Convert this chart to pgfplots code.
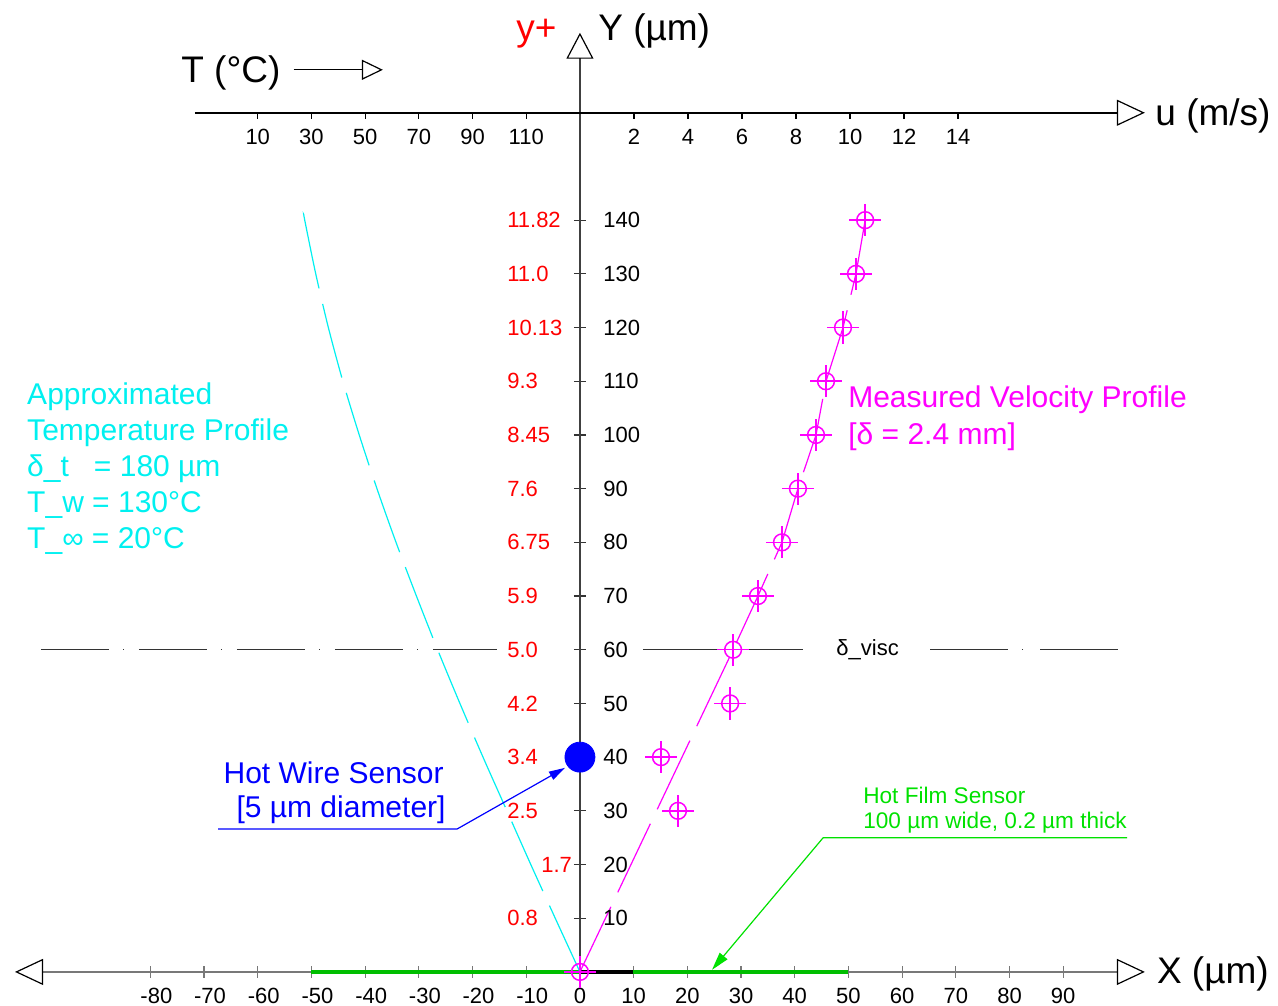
\documentclass[border=0pt]{standalone}
\usepackage{pgfplots}
\pgfplotsset{compat=1.18}
\usepackage{pgfplotstable}
\usepackage{fontspec}
\setmainfont{Liberation Sans}
\usetikzlibrary{arrows.meta}
\definecolor{cy}{RGB}{0,240,240}
\definecolor{mg}{RGB}{255,0,255}
\definecolor{gr}{RGB}{0,225,0}
\definecolor{grd}{RGB}{0,190,0}
\definecolor{axg}{RGB}{120,120,120}
\newcommand\tickfont{\fontsize{11}{13}\selectfont}
\newcommand\annfont{\fontsize{15}{18}\selectfont}
\newcommand\bigfont{\fontsize{18.5}{22}\selectfont}

\pgfplotstableread{
Y u
0 0
30 3.63
40 3.0
50 5.56
60 5.67
70 6.59
80 7.48
90 8.07
100 8.74
110 9.11
120 9.74
130 10.22
140 10.56
}\velocity

\pgfplotstableread{
Y u
140 10.56
130 10.22
120 9.74
110 9.11
100 8.74
90 8.07
80 7.48
70 6.59
60 5.67
0 0
}\velfit

\pgfplotstableread{
Y T
141 27.2
140 27.5
130 31.6
120 36.3
110 41.7
100 47.8
90 54.4
80 61.5
70 69.1
60 77.0
50 85.3
40 93.9
30 102.8
20 111.7
10 120.8
0 130
}\temp

\begin{document}
\begin{tikzpicture}
\begin{axis}[
  x=2.685pt, y=2.685pt,
  xmin=-105.2, xmax=105.2, ymin=0, ymax=174.9,
  axis x line*=middle, axis y line*=middle,
  clip=false,
  x axis line style={axg, line width=1pt, {Triangle[open,length=14pt,width=13pt,line width=0.6pt,color=black]}-{Triangle[open,length=14pt,width=13pt,line width=0.6pt,color=black]}},
  y axis line style={black!75, line width=0.75pt, -{Triangle[open,length=13pt,width=13.5pt,line width=0.6pt,color=black]}},
  xtick={-80,-70,...,90}, ytick={10,20,...,140},
  xticklabels={\hspace*{6pt}-80,\hspace*{6pt}-70,\hspace*{6pt}-60,\hspace*{6pt}-50,\hspace*{6pt}-40,\hspace*{6pt}-30,\hspace*{6pt}-20,\hspace*{6pt}-10,0,10,20,30,40,50,60,70,80,90},
  hide obscured x ticks=false, hide obscured y ticks=false,
  yticklabels={},
  tick align=center, major tick length=6pt,
  x tick style={axg, line width=0.6pt},
  y tick style={black!80, line width=0.6pt},
  tick label style={font=\tickfont},
  xticklabel style={yshift=-1.5pt},
  /pgf/number format/assume math mode=true,
]
% bounding box corners
\coordinate (bbA) at (axis cs:-108,-6.33);
\coordinate (bbB) at (axis cs:130,181);

% hot film sensor on the wall
\draw[grd, line width=2pt] (axis cs:-50,0) -- (axis cs:50,0);
\draw[black, line width=2pt] (axis cs:0,0) -- (axis cs:9.9,0);

% delta_visc line
\draw[black!80, line width=0.6pt, dash pattern=on 34pt off 7.25pt on 0.5pt off 7.25pt] (axis cs:-100.4,60) -- (axis cs:-15.5,60);
\draw[black!80, line width=0.6pt] (axis cs:11.7,60) -- (axis cs:41.5,60);
\draw[black!80, line width=0.6pt] (axis cs:65.2,60) -- (axis cs:79.7,60);
\draw[black!80, line width=0.6pt] (axis cs:82.4,60) -- (axis cs:82.6,60);
\draw[black!80, line width=0.6pt] (axis cs:85.7,60) -- (axis cs:100.2,60);
\node[anchor=west, inner sep=0, font=\tickfont] at (axis cs:47.7,60) {δ\_visc};

% temperature profile
\addplot[cy, line width=0.6pt, dash pattern=on 38pt off 8pt, smooth, no marks] table[x expr=(\thisrow{T}-130)*0.5, y=Y] {\temp};

% velocity profile fit line
\addplot[mg, line width=0.6pt, dash pattern=on 38pt off 8pt, no marks] table[x expr=\thisrow{u}*5.03, y=Y] {\velfit};

% measured velocity points
\addplot[mg, only marks, mark=o, mark size=4.2pt, mark options={line width=0.75pt},
  error bars/.cd, x dir=both, x fixed=3, y dir=both, y fixed=3, error mark=none,
  error bar style={mg, line width=0.75pt}]
  table[x expr=\thisrow{u}*5.03, y=Y] {\velocity};

% hot wire sensor
\addplot[blue, only marks, mark=*, mark size=7.5pt] coordinates {(0,40)};

% top axis (T and u)
\draw[black, line width=0.75pt, -{Triangle[open,length=14pt,width=13pt,line width=0.6pt]}] (axis cs:-71.7,160) -- (axis cs:105.2,160);
\pgfplotsinvokeforeach{2,4,6,8,10,12,14}{
  \draw[black, line width=0.6pt] (axis cs:{#1*5.03},160) -- ++(0pt,-3pt);
  \node[inner sep=0, font=\tickfont] at (axis cs:{#1*5.03},155.5) {#1};
}
\pgfplotsinvokeforeach{10,30,50,70,90,110}{
  \draw[black, line width=0.6pt] (axis cs:{(#1-130)*0.5},160) -- ++(0pt,-3pt);
  \node[inner sep=0, font=\tickfont] at (axis cs:{(#1-130)*0.5},155.5) {#1};
}

% Y tick labels (black) on the right
\pgfplotsinvokeforeach{10,20,...,140}{
  \node[anchor=west, inner sep=0, font=\tickfont] at (axis cs:4.3,#1) {#1};
}
% y+ labels (red) on the left
\begin{scope}[every node/.style={anchor=west, inner sep=0, font=\tickfont, text=red}]
\node at (axis cs:-13.6,140) {11.82};
\node at (axis cs:-13.6,130) {11.0};
\node at (axis cs:-13.6,120) {10.13};
\node at (axis cs:-13.6,110) {9.3};
\node at (axis cs:-13.6,100) {8.45};
\node at (axis cs:-13.6,90) {7.6};
\node at (axis cs:-13.6,80) {6.75};
\node at (axis cs:-13.6,70) {5.9};
\node at (axis cs:-13.6,60) {5.0};
\node at (axis cs:-13.6,50) {4.2};
\node at (axis cs:-13.6,40) {3.4};
\node at (axis cs:-13.6,30) {2.5};
\node at (axis cs:-7.26,20) {1.7};
\node at (axis cs:-13.6,10) {0.8};
\end{scope}

% axis titles
\node[anchor=west, inner sep=0, font=\bigfont] at (axis cs:-74.3,167.4) {T (°C)};
\draw[black, line width=0.6pt, -{Triangle[open,length=10.5pt,width=10pt,line width=0.6pt]}] (axis cs:-53.3,168) -- (axis cs:-36.7,168);
\node[anchor=east, inner sep=0, font=\bigfont, text=red] at (axis cs:-4.3,174.7) {y+};
\node[anchor=west, inner sep=0, font=\bigfont] at (axis cs:3.35,175.2) {Y (µm)};
\node[anchor=west, inner sep=0, font=\bigfont] at (axis cs:107.1,159.5) {u (m/s)};
\node[anchor=west, inner sep=0, font=\bigfont] at (axis cs:107.4,-0.4) {X (µm)};

% annotations: temperature profile
\begin{scope}[every node/.style={anchor=base west, inner sep=0, font=\annfont, text=cy}]
\node at (axis cs:-103,105.6) {Approximated};
\node at (axis cs:-103,98.9) {Temperature Profile};
\node at (axis cs:-103,92.2) {δ\_t\ \ \ = 180 µm};
\node at (axis cs:-103,85.5) {T\_w = 130°C};
\node at (axis cs:-103,78.8) {T\_∞ = 20°C};
\end{scope}

% annotations: velocity profile
\begin{scope}[every node/.style={anchor=base west, inner sep=0, font=\annfont, text=mg}]
\node at (axis cs:49.9,105.2) {Measured Velocity Profile};
\node at (axis cs:49.9,98.3) {[δ = 2.4 mm]};
\end{scope}

% hot wire annotation
\node[anchor=base east, inner sep=0, font=\annfont, text=blue] at (axis cs:-25.3,35.1) {Hot Wire Sensor};
\node[anchor=base east, inner sep=0, font=\annfont, text=blue] at (axis cs:-24.95,28.8) {[5 µm diameter]};
\draw[blue, line width=0.6pt, -{Triangle[length=8pt,width=4.5pt]}] (axis cs:-67.4,26.6) -- (axis cs:-22.9,26.6) -- (axis cs:-2.8,38.0);

% hot film annotation
\node[anchor=base west, inner sep=0, font=\fontsize{11.3}{13}\selectfont, text=gr] at (axis cs:52.7,31.4) {Hot Film Sensor};
\node[anchor=base west, inner sep=0, font=\fontsize{11.3}{13}\selectfont, text=gr] at (axis cs:52.7,26.7) {100 µm wide, 0.2 µm thick};
\draw[gr, line width=0.6pt, -{Triangle[length=9pt,width=5pt]}] (axis cs:101.9,25.0) -- (axis cs:45.3,25.0) -- (axis cs:24.6,0.4);
\end{axis}
\pgfresetboundingbox
\path (bbA) rectangle (bbB);
\end{tikzpicture}
\end{document}
